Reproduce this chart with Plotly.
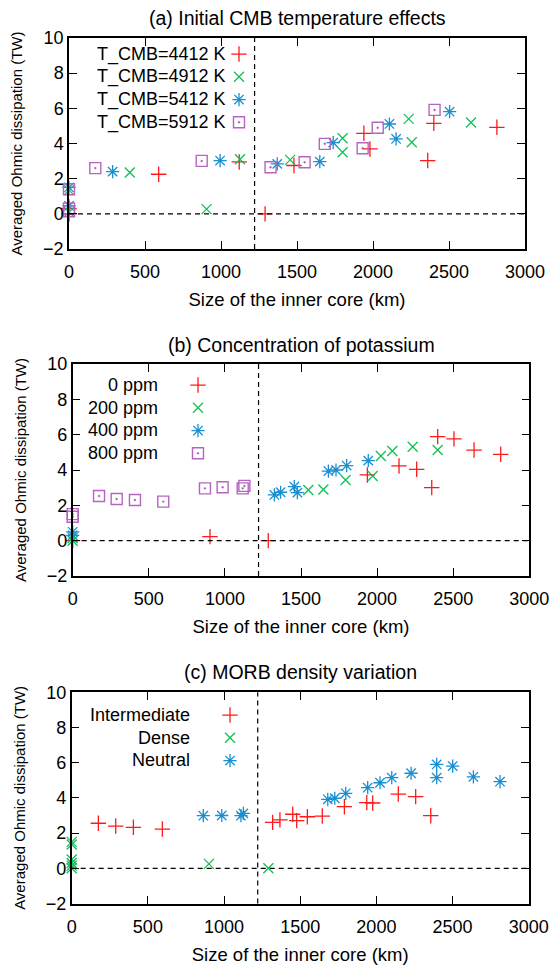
import plotly.graph_objects as go

# ---------------- data ----------------
# (a) Initial CMB temperature effects
a_4412_x = [0, 0, 590, 1120, 1290, 1480, 1940, 1980, 2360, 2400, 2815]
a_4412_y = [0.0, 0.3, 2.25, 2.95, 0.0, 2.75, 4.58, 3.69, 3.03, 5.15, 4.92]
a_4912_x = [0, 0, 400, 905, 1125, 1455, 1800, 1800, 2235, 2255, 2645]
a_4912_y = [0.1, 1.35, 2.35, 0.27, 3.1, 3.07, 4.3, 3.5, 5.4, 4.07, 5.19]
a_5412_x = [0, 0, 287, 994, 1370, 1650, 1738, 2108, 2152, 2504]
a_5412_y = [0.45, 1.5, 2.4, 3.03, 2.84, 2.97, 4.05, 5.11, 4.26, 5.81]
a_5912_x = [0, 0, 0, 173, 873, 1326, 1550, 1683, 1932, 2031, 2405]
a_5912_y = [0.15, 1.4, 0.3, 2.6, 3.01, 2.65, 2.93, 3.98, 3.73, 4.9, 5.91]

# (b) Concentration of potassium
b_0_x = [0, 902, 1285, 1936, 2144, 2260, 2359, 2398, 2505, 2637, 2812]
b_0_y = [0.0, 0.23, 0.0, 3.72, 4.23, 4.04, 3.0, 5.89, 5.76, 5.13, 4.89]
b_200_x = [0, 0, 1548, 1647, 1793, 1971, 2025, 2100, 2234, 2398]
b_200_y = [0.0, 0.15, 2.87, 2.9, 3.43, 3.66, 4.79, 5.08, 5.32, 5.13]
b_400_x = [0, 0, 1325, 1366, 1456, 1476, 1680, 1730, 1800, 1942]
b_400_y = [0.3, 0.5, 2.59, 2.74, 3.06, 2.72, 3.94, 4.0, 4.25, 4.53]
b_800_x = [0, 0, 173, 289, 409, 595, 869, 985, 1117, 1128]
b_800_y = [1.35, 1.5, 2.53, 2.36, 2.3, 2.21, 2.96, 3.02, 2.96, 3.1]

# (c) MORB density variation
c_int_x = [175, 289, 405, 595, 1319, 1367, 1451, 1477, 1547, 1645, 1790, 1937, 1976, 2144, 2258, 2357]
c_int_y = [2.56, 2.4, 2.33, 2.23, 2.61, 2.75, 3.07, 2.71, 2.93, 2.97, 3.5, 3.73, 3.71, 4.22, 4.07, 2.99]
c_dense_x = [0, 0, 0, 0, 0, 0, 901, 1291]
c_dense_y = [0.0, 0.15, 0.3, 0.5, 1.35, 1.5, 0.25, 0.0]
c_neu_x = [864, 985, 1111, 1127, 1681, 1727, 1799, 1943, 2024, 2101, 2228, 2396, 2396, 2501, 2637, 2812]
c_neu_y = [2.99, 3.0, 2.99, 3.12, 3.92, 3.98, 4.26, 4.58, 4.86, 5.15, 5.4, 5.9, 5.15, 5.81, 5.2, 4.92]

panel_titles = ["(a) Initial CMB temperature effects",
                "(b) Concentration of potassium",
                "(c) MORB density variation"]
labels_a = ["T_CMB=4412 K", "T_CMB=4912 K", "T_CMB=5412 K", "T_CMB=5912 K"]
labels_b = ["0 ppm", "200 ppm", "400 ppm", "800 ppm"]
labels_c = ["Intermediate", "Dense", "Neutral"]
x_title = "Size of the inner core (km)"
y_title = "Averaged Ohmic dissipation (TW)"
present_ic_radius = 1221  # km

# ---------------- styling / layout ----------------
W, H = 555, 972
FONT = "Liberation Sans, Arial, Helvetica, sans-serif"
RED, GREEN, BLUE, PURPLE = "#ff1a1a", "#12bf55", "#1a8fd0", "#b565c0"
STY = {
    "plus": dict(symbol="cross-thin", size=11, color=RED, line=dict(color=RED, width=1.3)),
    "x": dict(symbol="x-thin", size=10, color=GREEN, line=dict(color=GREEN, width=1.3)),
    "star": dict(symbol="asterisk", size=11, color=BLUE, line=dict(color=BLUE, width=1.3)),
    "sq": dict(symbol="square-open-dot", size=11, color=PURPLE, line=dict(color=PURPLE, width=1.4)),
}

# pixel boxes of each panel: (left, right, top, bottom)
boxes = [(69, 525, 38, 249), (72.7, 529.3, 364, 576), (71.7, 528.7, 692.3, 903.5)]
title_y_px = [18, 345, 672]
# legend placement (symbol x, first row y, text right edge) in pixels
leg_px = [(239, 54, 228), (198, 385, 160), (230, 715, 192)]
LEG_ROW = 22.7

fig = go.Figure()

series = [
    [(a_4412_x, a_4412_y, "plus"), (a_4912_x, a_4912_y, "x"), (a_5412_x, a_5412_y, "star"), (a_5912_x, a_5912_y, "sq")],
    [(b_0_x, b_0_y, "plus"), (b_200_x, b_200_y, "x"), (b_400_x, b_400_y, "star"), (b_800_x, b_800_y, "sq")],
    [(c_int_x, c_int_y, "plus"), (c_dense_x, c_dense_y, "x"), (c_neu_x, c_neu_y, "star")],
]
labels = [labels_a, labels_b, labels_c]

annotations = []
shapes = []
for i in range(3):
    xa = "x" if i == 0 else f"x{i+1}"
    ya = "y" if i == 0 else f"y{i+1}"
    lg = "legend" if i == 0 else f"legend{i+1}"
    for (xs, ys, st), lab in zip(series[i], labels[i]):
        fig.add_trace(go.Scatter(
            x=xs, y=ys, mode="markers", marker=STY[st], name=" ",
            hovertemplate=lab + "<br>%{x} km, %{y} TW<extra></extra>",
            xaxis=xa, yaxis=ya, legend=lg, cliponaxis=False))
    l, r, t, b = boxes[i]
    xd = [l / W, r / W]
    yd = [1 - b / H, 1 - t / H]
    axcommon = dict(showline=True, linecolor="black", linewidth=1.5, mirror="allticks",
                    ticks="inside", ticklen=8, tickwidth=1.2, tickcolor="black",
                    showgrid=False, zeroline=False, automargin=False,
                    tickfont=dict(family=FONT, size=18, color="black"))
    fig.layout[("xaxis" if i == 0 else f"xaxis{i+1}")] = dict(
        axcommon, domain=xd, range=[0, 3000], dtick=500, tick0=0, anchor=ya, ticklabelstandoff=6,
        title=dict(text=x_title, font=dict(family=FONT, size=18.5, color="black"), standoff=12))
    fig.layout[("yaxis" if i == 0 else f"yaxis{i+1}")] = dict(
        axcommon, domain=yd, range=[-2, 10], dtick=2, tick0=0, anchor=xa,
        title=dict(text=y_title, font=dict(family=FONT, size=15, color="black"), standoff=17))
    # dashed reference lines
    shapes.append(dict(type="line", xref=xa, yref=f"{ya} domain", x0=present_ic_radius, x1=present_ic_radius,
                       y0=0, y1=1, line=dict(color="black", width=1.2, dash="5px,4px")))
    shapes.append(dict(type="line", xref=f"{xa} domain", yref=ya, x0=0, x1=1, y0=0, y1=0,
                       line=dict(color="black", width=1.2, dash="5px,4px")))
    # panel title
    annotations.append(dict(text=panel_titles[i], xref="paper", yref="paper",
                            x=((l + r) / 2) / W, y=1 - title_y_px[i] / H, xanchor="center", yanchor="middle",
                            showarrow=False, font=dict(family=FONT, size=19.5, color="black")))
    # legend labels (right aligned, gnuplot style)
    sx, sy, tx = leg_px[i]
    for k, lab in enumerate(labels[i]):
        annotations.append(dict(text=lab, xref="paper", yref="paper", x=tx / W,
                                y=1 - (sy + k * LEG_ROW) / H, xanchor="right", yanchor="middle",
                                showarrow=False, font=dict(family=FONT, size=18, color="black")))
    fig.layout[lg] = dict(x=(sx - 20) / W, y=1 - (sy - 5 - LEG_ROW / 2) / H, xanchor="left", yanchor="top",
                          bgcolor="rgba(0,0,0,0)", borderwidth=0,
                          font=dict(family=FONT, size=15.2, color="black"), tracegroupgap=0)

fig.update_layout(width=W, height=H, autosize=False, margin=dict(l=0, r=0, t=0, b=0),
                  paper_bgcolor="white", plot_bgcolor="white", showlegend=True,
                  annotations=annotations, shapes=shapes)

fig.write_html("out.html")
